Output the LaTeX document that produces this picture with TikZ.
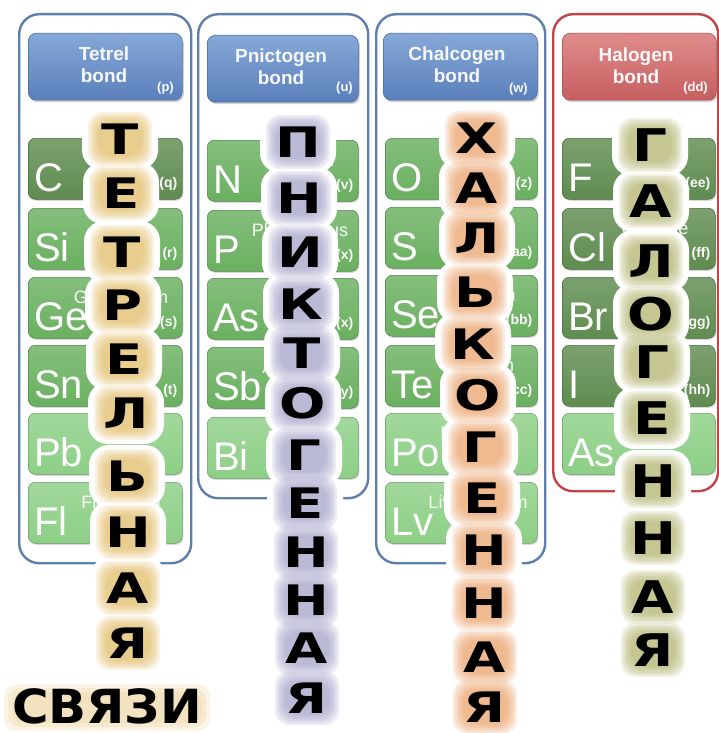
\documentclass[tikz,border=0pt]{standalone}
\usepackage{fontspec}
\usepackage{graphicx}
\setmainfont{Liberation Sans}
\newfontfamily\heavyfont{DejaVu Sans}
\usetikzlibrary{calc,shadows}

\definecolor{boxblue}{HTML}{5E7FAE}
\definecolor{boxred}{HTML}{C0454A}
\definecolor{hdrtop}{HTML}{86A8D8}
\definecolor{hdrbot}{HTML}{5A7FBA}
\definecolor{redtop}{HTML}{E08C8C}
\definecolor{redbot}{HTML}{C55E5F}
\definecolor{gdark}{HTML}{5F8C50}
\definecolor{gmid}{HTML}{6AB060}
\definecolor{glight}{HTML}{8DCF86}
\definecolor{glowT}{HTML}{E2B75A}
\definecolor{glowP}{HTML}{9C9AC4}
\definecolor{glowC}{HTML}{EC9A5C}
\definecolor{glowH}{HTML}{AEAE62}

\tikzset{
 outerbox/.style={draw=#1, line width=2.4pt, rounded corners=20pt, inner sep=0pt, anchor=north west},
 hdrbox/.style 2 args={rounded corners=8pt, top color=#1, bottom color=#2, draw=#2!80!black, line width=0.5pt, inner sep=0pt, anchor=north west, minimum height=67pt, drop shadow={opacity=0.35, shadow xshift=1.5pt, shadow yshift=-2pt}},
 hdrtext/.style={text=white!94!gray, font=\bfseries\fontsize{19}{22.5}\selectfont, inner sep=0pt, anchor=base},
 hdrlab/.style={text=white!94!gray, font=\bfseries\fontsize{13}{13}\selectfont, inner sep=0pt},
 eltile/.style={rounded corners=7pt, top color=#1!82!white, bottom color=#1, draw=#1!75!black, line width=0.5pt, inner sep=0pt, minimum height=61pt, anchor=north west, drop shadow={opacity=0.3, shadow xshift=1pt, shadow yshift=-1.5pt}},
 symfont/.style={text=white, font=\fontsize{40}{40}\selectfont, inner sep=0pt},
 namefont/.style={text=white!95!gray, font=\fontsize{18}{18}\selectfont, inner sep=0pt},
 labfont/.style={text=white!95!gray, font=\bfseries\fontsize{14}{14}\selectfont, inner sep=0pt},
 bigletter/.style={text=black, font=\heavyfont\bfseries\fontsize{#1}{#1}\selectfont, inner sep=0pt},
}

\newcommand\element[8]{%
  \node[eltile=#5, minimum width=#4pt] (#1) at (#2,#3) {};
  \node[symfont, anchor=base west] (#1-sym) at ($(#1.north west)+(6,53)$) {#6};
  \node[namefont, anchor=base] (#1-name) at ($(#1.north west)+(93,26)$) {#7};
  \if\relax\detokenize{#8}\relax\else
  \node[labfont, anchor=base east] (#1-lab) at ($(#1.north east)+(-5,49)$) {#8};
  \fi
}

\newcommand\lettercol[5]{%
  \foreach \xx/\yy/\ch in {#5} {\fill[white, rounded corners=20pt] (\xx-38,\yy-31) rectangle (\xx+38,\yy+31);}
  \foreach \xx/\yy/\ch in {#5} {\foreach \s in {0,2,4,6,8,10} {\fill[#2, opacity=0.17, rounded corners=14pt] (\xx-32+\s,\yy-27+\s) rectangle (\xx+32-\s,\yy+27-\s);}}
  \foreach \xx/\yy/\ch [count=\ci] in {#5} {\node[bigletter=#3] (#1\ci) at (\xx,\yy) {\scalebox{#4}[1]{\ch}};}
}

\begin{document}
\begin{tikzpicture}[x=1pt,y=-1pt]
\fill[white] (0,0) rectangle (718,733);
\useasboundingbox (0,0) rectangle (718,733);

% outer frames
\node[outerbox=boxblue, minimum width=172pt, minimum height=549pt] (col1) at (18,13) {};
\node[outerbox=boxblue, minimum width=170pt, minimum height=484pt] (col2) at (197,13) {};
\node[outerbox=boxblue, minimum width=169pt, minimum height=549pt] (col3) at (375,13) {};
\node[outerbox=boxred, minimum width=165pt, minimum height=477pt] (col4) at (552,13) {};

% headers
\node[hdrbox={hdrtop}{hdrbot}, minimum width=154pt] (h1) at (28,33) {};
\node[hdrtext] (h1a) at (104,61) {Tetrel};
\node[hdrtext] (h1b) at (104,83) {bond};
\node[hdrlab, anchor=base east] (h1l) at (174,92) {(p)};

\node[hdrbox={hdrtop}{hdrbot}, minimum width=151pt] (h2) at (207,35) {};
\node[hdrtext] (h2a) at (281,63) {Pnictogen};
\node[hdrtext] (h2b) at (281,85) {bond};
\node[hdrlab, anchor=base east] (h2l) at (353,92) {(u)};

\node[hdrbox={hdrtop}{hdrbot}, minimum width=154pt] (h3) at (383,33) {};
\node[hdrtext] (h3a) at (457,61) {Chalcogen};
\node[hdrtext] (h3b) at (457,83) {bond};
\node[hdrlab, anchor=base east] (h3l) at (528,93) {(w)};

\node[hdrbox={redtop}{redbot}, minimum width=154pt] (h4) at (562,33) {};
\node[hdrtext] (h4a) at (636,62) {Halogen};
\node[hdrtext] (h4b) at (636,84) {bond};
\node[hdrlab, anchor=base east] (h4l) at (708,92) {(dd)};

% element tiles
\element{c}{28}{138}{154}{gdark}{C}{Carbon}{(q)}
\element{si}{28}{208}{154}{gmid}{Si}{Silicon}{(r)}
\element{ge}{28}{277}{154}{gmid}{Ge}{Germanium}{(s)}
\element{sn}{28}{345}{154}{gmid}{Sn}{Tin}{(t)}
\element{pb}{28}{413}{154}{glight}{Pb}{Lead}{}
\element{fl}{28}{482}{154}{glight}{Fl}{Flerovium}{}

\element{n}{207}{140}{151}{gmid}{N}{Nitrogen}{(v)}
\element{p}{207}{210}{151}{gmid}{P}{Phosphorus}{(x)}
\element{as}{207}{278}{151}{gmid}{As}{Arsenic}{(x)}
\element{sb}{207}{347}{151}{gmid}{Sb}{Antimony}{(y)}
\element{bi}{207}{417}{151}{glight}{Bi}{Bismuth}{}

\element{o}{385}{138}{152}{gmid}{O}{Oxygen}{(z)}
\element{s}{385}{207}{152}{gmid}{S}{Sulfur}{(aa)}
\element{se}{385}{275}{152}{gmid}{Se}{Selenium}{(bb)}
\element{te}{385}{345}{152}{gmid}{Te}{Tellurium}{(cc)}
\element{po}{385}{413}{152}{glight}{Po}{Polonium}{}
\element{lv}{385}{482}{152}{glight}{Lv}{Livermorium}{}

\element{f}{562}{138}{153}{gdark}{F}{Fluorine}{(ee)}
\element{cl}{562}{208}{153}{gdark}{Cl}{Chlorine}{(ff)}
\element{br}{562}{277}{153}{gdark}{Br}{Bromine}{(gg)}
\element{i}{562}{345}{153}{gdark}{I}{Iodine}{(hh)}
\element{at}{562}{413}{153}{glight}{As}{Astatine}{}

% vertical glowing words
\lettercol{t}{glowT}{42}{1.3}{120/139/Т,121/193/Е,122/252/Т,123/305/Р,124/359/Е,126/413/Л,127/476/Ь,128/532/Н,128/588/А,128/643/Я}
\lettercol{pn}{glowP}{42}{1.3}{298/142/П,299/198/Н,300/252/И,301/304/К,302/353/Т,303/403/О,304/455/Г,305/503/Е,306/552/Н,306/600/Н,307/648/А,307/698/Я}
\lettercol{ch}{glowC}{42}{1.3}{477/138/Х,477/188/А,477/238/Л,475/292/Ь,473/344/К,478/395/О,480/447/Г,482/498/Е,484/550/Н,484/603/Н,485/657/А,485/707/Я}
\lettercol{ha}{glowH}{45}{1.22}{650/145/Г,651/201/А,651/261/Л,651/314/О,652/362/Г,652/418/Е,653/481/Н,653/538/Н,653/597/А,653/650/Я}

% bottom word
\foreach \s in {0,4,8} {\fill[glowT, opacity=0.15, rounded corners=12pt] (4+\s,684+\s) rectangle (210-\s,731-\s);}
\node[bigletter=47] (svyazi) at (107,706) {\scalebox{1.06}[1]{СВЯЗИ}};
\end{tikzpicture}
\end{document}
